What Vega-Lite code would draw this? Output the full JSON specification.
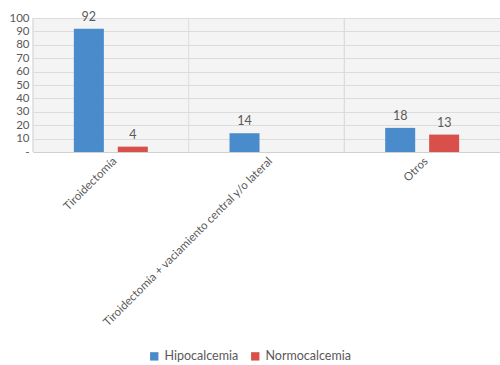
{
  "$schema": "https://vega.github.io/schema/vega-lite/v6.json",
  "autosize": "none",
  "width": 467,
  "height": 134,
  "padding": {"left": 33, "top": 18, "right": 0, "bottom": 213},
  "background": "white",
  "config": {
    "font": "Lato",
    "view": {"stroke": null, "fill": "#f4f4f4"}
  },
  "data": {
    "values": [
      {"cat": "Tiroidectomía", "grupo": "Hipocalcemia", "n": 92},
      {"cat": "Tiroidectomía", "grupo": "Normocalcemia", "n": 4},
      {"cat": "Tiroidectomía + vaciamiento central y/o lateral", "grupo": "Hipocalcemia", "n": 14},
      {"cat": "Otros", "grupo": "Hipocalcemia", "n": 18},
      {"cat": "Otros", "grupo": "Normocalcemia", "n": 13}
    ]
  },
  "encoding": {
    "x": {
      "field": "cat", "type": "nominal", "sort": null,
      "scale": {"paddingInner": 0, "paddingOuter": 0},
      "axis": {
        "title": null, "labelAngle": -45, "labelFontSize": 11.5, "labelColor": "#595959",
        "labelLimit": 400, "ticks": false, "domainColor": "#d0d0d0", "labelPadding": 3
      }
    }
  },
  "layer": [
    {
      "mark": {"type": "rule", "color": "#dcdcdc", "strokeWidth": 1},
      "encoding": {
        "x": {"field": "cat", "type": "nominal", "sort": null, "bandPosition": 0}
      }
    },
    {
      "mark": {"type": "bar", "width": 30},
      "encoding": {
        "xOffset": {"field": "grupo", "type": "nominal", "scale": {"paddingInner": 0.318, "paddingOuter": 0.93}},
        "y": {
          "field": "n", "type": "quantitative",
          "scale": {"domain": [0, 100]},
          "axis": {
            "title": null, "values": [0,10,20,30,40,50,60,70,80,90,100], "tickCount": 20,
            "labelExpr": "datum.value == 0 ? '-' : datum.label", "labelOverlap": false,
            "labelFontSize": 11.5, "labelColor": "#595959", "ticks": false, "domain": false,
            "gridColor": "#dcdcdc", "labelPadding": 4
          }
        },
        "color": {
          "field": "grupo", "type": "nominal",
          "scale": {"domain": ["Hipocalcemia", "Normocalcemia"], "range": ["#4a8bcb", "#d9504b"]},
          "legend": {
            "orient": "none", "legendX": 115, "legendY": 332, "direction": "horizontal", "title": null,
            "symbolType": "square", "symbolSize": 70, "symbolStrokeWidth": 0,
            "labelFontSize": 12.5, "labelColor": "#595959", "columnPadding": 10
          }
        }
      }
    },
    {
      "mark": {"type": "text", "dy": -5, "fontSize": 12.5, "color": "#595959", "baseline": "bottom"},
      "encoding": {
        "xOffset": {"field": "grupo", "type": "nominal", "scale": {"paddingInner": 0.318, "paddingOuter": 0.93}},
        "y": {
          "field": "n", "type": "quantitative",
          "axis": {
            "title": null, "values": [0,10,20,30,40,50,60,70,80,90,100], "tickCount": 20,
            "labelExpr": "datum.value == 0 ? '-' : datum.label", "labelOverlap": false,
            "labelFontSize": 11.5, "labelColor": "#595959", "ticks": false, "domain": false,
            "gridColor": "#dcdcdc", "labelPadding": 4
          }
        },
        "text": {"field": "n", "type": "quantitative"}
      }
    }
  ]
}
